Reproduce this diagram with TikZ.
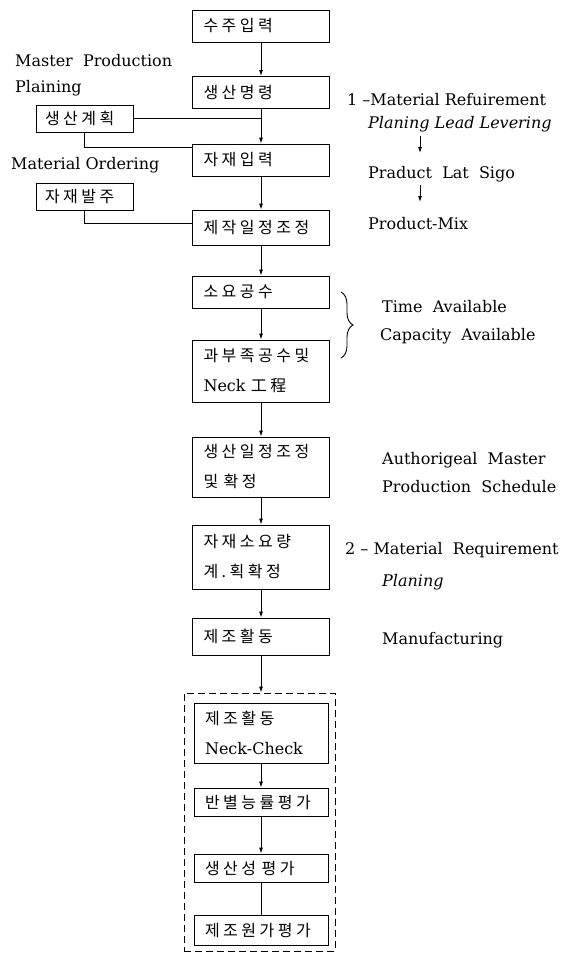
\documentclass[tikz,border=0pt]{standalone}
\usepackage{fontspec}
\setmainfont{DejaVu Serif}
\newfontfamily\kr[LetterSpace=22]{Noto Sans CJK KR}
\usetikzlibrary{arrows.meta,decorations.pathreplacing,calc}
\begin{document}
\begin{tikzpicture}[x=1pt,y=-1pt,
  bx/.style={draw, line width=0.9pt, rectangle, inner xsep=11pt, inner ysep=2pt,
    text width=115pt, align=left, minimum height=32pt,
    font=\kr\fontsize{16}{30}\selectfont},
  ibx/.style={bx, text width=112pt},
  lbox/.style={bx, inner xsep=9pt, text width=79pt, minimum height=27pt},
  lbl/.style={anchor=west, inner sep=0pt, font=\fontsize{16}{19}\selectfont},
  arr/.style={line width=0.9pt, -{Latex[length=6pt,width=4pt]}},
  ln/.style={line width=0.9pt}
]
\useasboundingbox (0,0) rectangle (585,958);

% main column
\node[bx] (n1) at (261,26) {수주입력};
\node[bx] (n2) at (261,92.5) {생산명령};
\node[bx] (n3) at (261,160) {자재입력};
\node[bx, minimum height=35pt] (n4) at (261,227.5) {제작일정조정};
\node[bx] (n5) at (261,292) {소요공수};
\node[bx, minimum height=62pt] (n6) at (261,371) {과부족공수및\\{\rmfamily Neck} 工程};
\node[bx, minimum height=60pt] (n7) at (261,467) {생산일정조정\\및 확정};
\node[bx, minimum height=64pt] (n8) at (261,557) {자재소요량\\계.획확정};
\node[bx, minimum height=37pt] (n9) at (261,636.5) {제조활동};

% left boxes
\node[lbox] (L1) at (84.5,118.5) {생산계획};
\node[lbox] (L2) at (84.5,196.5) {자재발주};

% dashed group
\node[draw, dash pattern=on 7pt off 4pt, line width=0.9pt, minimum width=151pt, minimum height=258pt, inner sep=0pt] (grp) at (259.5,822) {};
\node[ibx, minimum height=60pt] (n10) at (261,733) {제조활동\\{\rmfamily Neck-Check}};
\node[ibx, minimum height=28pt] (n11) at (261,802) {반별능률평가};
\node[ibx, minimum height=28pt] (n12) at (261,868) {생산성 평가};
\node[ibx, minimum height=30pt] (n13) at (261,930) {제조원가평가};

% connectors
\draw[arr] (n1) -- (n2);
\draw[arr] (n2) -- (n3);
\draw[arr] (n3) -- (n4);
\draw[arr] (n4) -- (n5);
\draw[arr] (n5) -- (n6);
\draw[arr] (n6) -- (n7);
\draw[arr] (n7) -- (n8);
\draw[arr] (n8) -- (n9);
\draw[arr] (n9.south) -- (n9.south |- grp.north);
\draw[arr] (n10) -- (n11);
\draw[arr] (n11) -- (n12);
\draw[ln] (n12) -- (n13);

\draw[ln] (L1.east) -- (L1.east -| n2.south);
\coordinate (j1) at ($(n3.north west)+(0,4)$);
\draw[ln] (L1.south) -- (L1.south |- j1) -- (j1);
\coordinate (j2) at ($(n4.west)+(0,-4.5)$);
\draw[ln] (L2.south) -- (L2.south |- j2) -- (j2);

% left labels
\node[lbl] (t1) at (15,61) {Master\ \ Production};
\node[lbl] (t2) at (15,88) {Plaining};
\node[lbl] (t3) at (11,165) {Material Ordering};

% right labels
\node[lbl] (r1) at (347,100) {1 –Material Refuirement};
\node[lbl] (r2) at (368,124) {\itshape Planing Lead Levering};
\node[lbl] (r3) at (368,174) {Praduct\ \ Lat\ \ Sigo};
\node[lbl] (r4) at (368,224) {Product-Mix};
\coordinate (a1) at (420,136);
\coordinate (a2) at (420,153);
\coordinate (a3) at (420,185);
\coordinate (a4) at (420,202);
\draw[line width=0.9pt, -{Latex[length=6pt,width=4pt]}] (a1) -- (a2);
\draw[line width=0.9pt, -{Latex[length=6pt,width=4pt]}] (a3) -- (a4);

\coordinate (b1) at (341,292);
\coordinate (b2) at (341,358);
\draw[line width=0.9pt, decorate, decoration={brace, amplitude=12pt}] (b1) -- (b2);
\node[lbl] (r5) at (382,307) {Time\ \ Available};
\node[lbl] (r6) at (380,336) {Capacity\ \ Available};
\node[lbl] (r7) at (382,460) {Authorigeal\ \ Master};
\node[lbl] (r8) at (382,487) {Production\ \ Schedule};
\node[lbl] (r9) at (345,550) {2 – Material\ \ Requirement};
\node[lbl] (r10) at (382,582) {\itshape Planing};
\node[lbl] (r11) at (382,640) {Manufacturing};
\end{tikzpicture}
\end{document}
